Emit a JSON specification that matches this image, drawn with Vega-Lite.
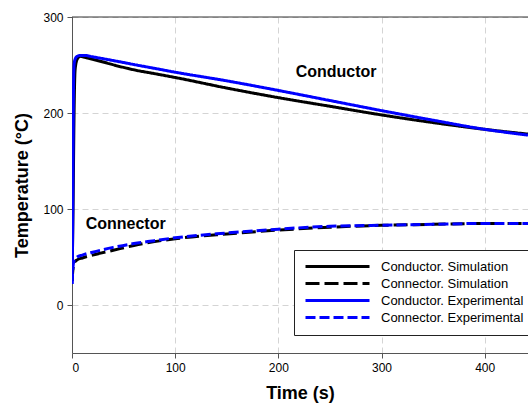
{
  "$schema": "https://vega.github.io/schema/vega-lite/v6.json",
  "autosize": {"type": "none"},
  "width": 456,
  "height": 336,
  "padding": {"left": 72, "top": 17, "right": 0, "bottom": 52},
  "background": "white",
  "view": {"stroke": null},
  "config": {
    "font": "Liberation Sans",
    "axis": {
      "labelFontSize": 12,
      "labelColor": "black",
      "titleFontSize": 18,
      "titleFontWeight": "bold",
      "titleColor": "black",
      "domainColor": "#555555",
      "tickColor": "#555555",
      "tickSize": 5,
      "gridColor": "#d4d4d4",
      "gridDash": [6, 4],
      "gridWidth": 1
    }
  },
  "datasets": {
    "series": [
      {"t": 0, "v": 25, "s": "Conductor. Simulation"},
      {"t": 1, "v": 100, "s": "Conductor. Simulation"},
      {"t": 2, "v": 200, "s": "Conductor. Simulation"},
      {"t": 3, "v": 245, "s": "Conductor. Simulation"},
      {"t": 5, "v": 256, "s": "Conductor. Simulation"},
      {"t": 8, "v": 259, "s": "Conductor. Simulation"},
      {"t": 12, "v": 258, "s": "Conductor. Simulation"},
      {"t": 20, "v": 256, "s": "Conductor. Simulation"},
      {"t": 48, "v": 248, "s": "Conductor. Simulation"},
      {"t": 60, "v": 245, "s": "Conductor. Simulation"},
      {"t": 80, "v": 241, "s": "Conductor. Simulation"},
      {"t": 100, "v": 237, "s": "Conductor. Simulation"},
      {"t": 150, "v": 226, "s": "Conductor. Simulation"},
      {"t": 200, "v": 216, "s": "Conductor. Simulation"},
      {"t": 250, "v": 207, "s": "Conductor. Simulation"},
      {"t": 300, "v": 198, "s": "Conductor. Simulation"},
      {"t": 350, "v": 190, "s": "Conductor. Simulation"},
      {"t": 400, "v": 183, "s": "Conductor. Simulation"},
      {"t": 442, "v": 178, "s": "Conductor. Simulation"},
      {"t": 0, "v": 25, "s": "Connector. Simulation"},
      {"t": 1, "v": 38, "s": "Connector. Simulation"},
      {"t": 2, "v": 44, "s": "Connector. Simulation"},
      {"t": 5, "v": 47, "s": "Connector. Simulation"},
      {"t": 10, "v": 49, "s": "Connector. Simulation"},
      {"t": 20, "v": 52, "s": "Connector. Simulation"},
      {"t": 40, "v": 57, "s": "Connector. Simulation"},
      {"t": 60, "v": 62, "s": "Connector. Simulation"},
      {"t": 80, "v": 66, "s": "Connector. Simulation"},
      {"t": 100, "v": 69, "s": "Connector. Simulation"},
      {"t": 150, "v": 74, "s": "Connector. Simulation"},
      {"t": 200, "v": 78, "s": "Connector. Simulation"},
      {"t": 250, "v": 81, "s": "Connector. Simulation"},
      {"t": 300, "v": 83, "s": "Connector. Simulation"},
      {"t": 350, "v": 84, "s": "Connector. Simulation"},
      {"t": 400, "v": 85, "s": "Connector. Simulation"},
      {"t": 442, "v": 85, "s": "Connector. Simulation"},
      {"t": 0, "v": 22, "s": "Conductor. Experimental"},
      {"t": 0.5, "v": 60, "s": "Conductor. Experimental"},
      {"t": 1, "v": 150, "s": "Conductor. Experimental"},
      {"t": 1.5, "v": 230, "s": "Conductor. Experimental"},
      {"t": 2, "v": 250, "s": "Conductor. Experimental"},
      {"t": 3, "v": 256, "s": "Conductor. Experimental"},
      {"t": 5, "v": 259, "s": "Conductor. Experimental"},
      {"t": 8, "v": 260, "s": "Conductor. Experimental"},
      {"t": 12, "v": 260, "s": "Conductor. Experimental"},
      {"t": 20, "v": 258.5, "s": "Conductor. Experimental"},
      {"t": 48, "v": 253, "s": "Conductor. Experimental"},
      {"t": 60, "v": 250.5, "s": "Conductor. Experimental"},
      {"t": 80, "v": 246.5, "s": "Conductor. Experimental"},
      {"t": 100, "v": 242.5, "s": "Conductor. Experimental"},
      {"t": 150, "v": 233.5, "s": "Conductor. Experimental"},
      {"t": 200, "v": 223.5, "s": "Conductor. Experimental"},
      {"t": 250, "v": 213, "s": "Conductor. Experimental"},
      {"t": 300, "v": 202.5, "s": "Conductor. Experimental"},
      {"t": 350, "v": 192.5, "s": "Conductor. Experimental"},
      {"t": 400, "v": 183, "s": "Conductor. Experimental"},
      {"t": 442, "v": 177, "s": "Conductor. Experimental"},
      {"t": 0, "v": 22, "s": "Connector. Experimental"},
      {"t": 1, "v": 40, "s": "Connector. Experimental"},
      {"t": 2, "v": 46, "s": "Connector. Experimental"},
      {"t": 5, "v": 50, "s": "Connector. Experimental"},
      {"t": 10, "v": 52, "s": "Connector. Experimental"},
      {"t": 20, "v": 55, "s": "Connector. Experimental"},
      {"t": 40, "v": 60, "s": "Connector. Experimental"},
      {"t": 60, "v": 64, "s": "Connector. Experimental"},
      {"t": 80, "v": 67, "s": "Connector. Experimental"},
      {"t": 100, "v": 70, "s": "Connector. Experimental"},
      {"t": 150, "v": 75, "s": "Connector. Experimental"},
      {"t": 200, "v": 79, "s": "Connector. Experimental"},
      {"t": 250, "v": 82, "s": "Connector. Experimental"},
      {"t": 300, "v": 83, "s": "Connector. Experimental"},
      {"t": 350, "v": 84, "s": "Connector. Experimental"},
      {"t": 400, "v": 85, "s": "Connector. Experimental"},
      {"t": 442, "v": 85, "s": "Connector. Experimental"}
    ],
    "labels": [
      {"t": 256, "v": 243, "label": "Conductor"},
      {"t": 52, "v": 84, "label": "Connector"}
    ],
    "top": [{"v": 300}]
  },
  "layer": [
    {
      "data": {"name": "top"},
      "mark": {"type": "rule", "color": "#333333", "strokeWidth": 1},
      "encoding": {"y": {"field": "v", "type": "quantitative", "scale": {"domain": [-50, 300], "nice": false}}}
    },
    {
      "data": {"name": "series"},
      "mark": {"type": "line", "clip": true, "strokeCap": "butt", "interpolate": "monotone"},
      "encoding": {
        "x": {
          "field": "t", "type": "quantitative", "title": "Time (s)",
          "scale": {"domain": [0, 442], "nice": false, "zero": false},
          "axis": {"values": [0, 100, 200, 300, 400], "titlePadding": 11, "labelPadding": 4}
        },
        "y": {
          "field": "v", "type": "quantitative", "title": "Temperature (°C)",
          "scale": {"domain": [-50, 300], "nice": false},
          "axis": {"values": [0, 100, 200, 300], "titlePadding": 11, "labelPadding": 4}
        },
        "color": {
          "field": "s", "type": "nominal",
          "scale": {
            "domain": ["Conductor. Simulation", "Connector. Simulation", "Conductor. Experimental", "Connector. Experimental"],
            "range": ["#000000", "#000000", "#0000ff", "#0000ff"]
          },
          "legend": {
            "title": null,
            "orient": "none",
            "legendX": 222,
            "legendY": 233,
            "symbolType": "stroke",
            "symbolSize": 4096,
            "clipHeight": 13,
            "symbolStrokeWidth": 3,
            "labelFontSize": 13,
            "labelColor": "black",
            "labelLimit": 300,
            "rowPadding": 3,
            "padding": 10,
            "strokeColor": "#222222",
            "fillColor": "white",
            "labelOffset": 10
          }
        },
        "strokeDash": {
          "field": "s", "type": "nominal",
          "scale": {
            "domain": ["Conductor. Simulation", "Connector. Simulation", "Conductor. Experimental", "Connector. Experimental"],
            "range": [[1, 0], [14, 5], [1, 0], [10, 4]]
          }
        },
        "strokeWidth": {
          "field": "s", "type": "nominal",
          "scale": {
            "domain": ["Conductor. Simulation", "Connector. Simulation", "Conductor. Experimental", "Connector. Experimental"],
            "range": [3, 3, 4, 4]
          }
        },
        "order": {"field": "t", "type": "quantitative"}
      }
    },
    {
      "data": {"name": "labels"},
      "mark": {"type": "text", "fontWeight": "bold", "fontSize": 16, "color": "black"},
      "encoding": {
        "x": {"field": "t", "type": "quantitative"},
        "y": {"field": "v", "type": "quantitative"},
        "text": {"field": "label"}
      }
    }
  ]
}
